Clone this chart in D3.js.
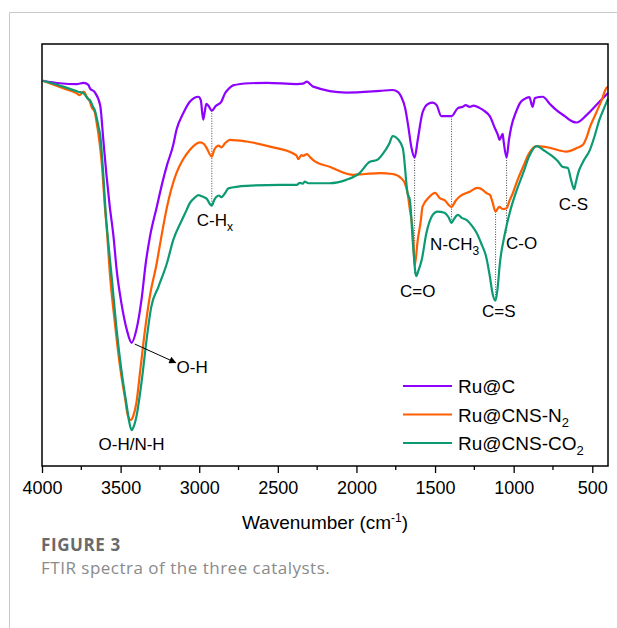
<meta charset="utf-8">
<style>
    body { margin: 0; background: #ffffff; }
    svg text { font-family: "Liberation Sans", Arial, sans-serif; }
    svg text.caption { font-family: "Open Sans", "Noto Sans", sans-serif; }
</style>
<body>
<script src="https://cdn.jsdelivr.net/npm/d3@7/dist/d3.min.js"></script>
<script>

    // [wavenumber (cm-1), transmittance (a.u.)]
    const ruC = [
        [3995, 91.3], [3885, 90.7], [3780, 90.5], [3735, 90.8], [3705, 90.3], [3695, 89.5], [3665, 88.6],
        [3630, 85.5], [3610, 77.3], [3590, 69.0], [3570, 61.8], [3545, 54.3], [3525, 46.4], [3495, 38.6],
        [3460, 32.2], [3430, 29.2], [3400, 32.2], [3365, 40.0], [3340, 48.1], [3315, 54.0], [3270, 61.4],
        [3230, 67.8], [3205, 71.3], [3165, 76.1], [3145, 79.6], [3100, 83.7], [3060, 86.3], [3005, 87.5],
        [2990, 86.7], [2975, 82.1], [2965, 83.9], [2955, 85.8], [2940, 85.3], [2920, 84.2], [2895, 85.3],
        [2860, 86.3], [2835, 88.4], [2815, 89.3], [2785, 90.2], [2680, 90.7], [2570, 90.8], [2380, 90.5],
        [2340, 90.6], [2315, 91.1], [2295, 90.5], [2275, 89.9], [2065, 88.5], [1850, 88.9], [1770, 89.1],
        [1735, 88.6], [1715, 87.5], [1690, 84.8], [1670, 80.4], [1650, 75.4], [1630, 73.1], [1610, 77.3],
        [1580, 83.7], [1545, 85.8], [1515, 86.1], [1490, 85.5], [1460, 82.9], [1395, 82.9], [1355, 84.8],
        [1325, 85.1], [1305, 85.5], [1280, 85.1], [1255, 85.4], [1215, 84.8], [1185, 84.1], [1150, 82.8],
        [1120, 80.1], [1100, 78.4], [1090, 77.3], [1070, 78.7], [1065, 77.3], [1045, 73.1], [1030, 77.3],
        [1015, 80.4], [985, 83.9], [960, 86.0], [930, 87.0], [900, 87.4], [880, 85.1], [865, 87.2],
        [815, 87.5], [770, 85.8], [730, 84.4], [675, 82.9], [625, 81.6], [600, 81.4], [535, 83.2],
        [455, 86.3], [400, 88.4]
    ];

    const ruCNSN2 = [
        [3995, 91.3], [3865, 89.5], [3780, 88.3], [3760, 87.9], [3735, 88.7], [3715, 87.5], [3695, 86.3],
        [3685, 85.1], [3665, 83.9], [3650, 80.8], [3640, 78.4], [3620, 71.8], [3600, 61.4], [3585, 54.7],
        [3570, 46.4], [3535, 33.4], [3505, 23.9], [3470, 15.6], [3455, 12.1], [3435, 10.9], [3420, 11.8],
        [3400, 14.9], [3375, 22.7], [3345, 32.2], [3315, 40.0], [3270, 48.1], [3250, 52.4], [3205, 61.4],
        [3145, 69.4], [3105, 72.5], [3060, 74.9], [2995, 76.7], [2970, 76.3], [2955, 75.5], [2920, 73.3],
        [2905, 74.9], [2890, 75.7], [2875, 75.9], [2860, 75.5], [2835, 76.5], [2805, 77.3], [2700, 76.9],
        [2530, 75.5], [2405, 74.1], [2380, 73.5], [2370, 72.7], [2360, 73.2], [2350, 73.7], [2340, 73.5],
        [2315, 73.9], [2295, 73.2], [2275, 72.5], [2170, 70.9], [2025, 69.0], [1945, 69.2], [1850, 69.4],
        [1770, 69.2], [1715, 68.2], [1690, 66.8], [1675, 64.7], [1660, 60.7], [1640, 54.7], [1630, 47.4],
        [1610, 53.6], [1590, 58.3], [1580, 61.4], [1535, 63.8], [1500, 64.7], [1470, 63.5], [1440, 63.0],
        [1395, 61.4], [1370, 62.8], [1345, 63.8], [1280, 65.0], [1230, 65.9], [1195, 65.4], [1175, 64.7],
        [1150, 64.2], [1135, 62.6], [1115, 60.3], [1100, 61.1], [1090, 61.4], [1070, 60.9], [1045, 61.1],
        [1025, 63.0], [1005, 64.7], [975, 67.8], [940, 70.9], [900, 74.2], [855, 75.8], [815, 75.7],
        [770, 75.4], [665, 74.5], [595, 75.4], [560, 76.1], [535, 78.0], [515, 80.3], [475, 83.7],
        [440, 86.7], [410, 89.6], [400, 89.8]
    ];

    const ruCNSCO2 = [
        [3995, 91.3], [3865, 89.9], [3770, 88.7], [3735, 88.3], [3705, 86.9], [3695, 86.7], [3675, 85.1],
        [3665, 84.4], [3640, 80.3], [3630, 78.4], [3610, 69.0], [3595, 60.0], [3580, 53.6], [3555, 44.1],
        [3525, 32.2], [3495, 22.7], [3460, 14.0], [3445, 10.4], [3430, 8.5], [3415, 9.5], [3400, 11.6],
        [3365, 20.4], [3335, 29.9], [3305, 37.7], [3260, 42.4], [3205, 48.1], [3165, 53.6], [3110, 58.3],
        [3080, 60.7], [3060, 62.3], [3025, 63.7], [3005, 64.2], [2990, 64.0], [2975, 63.8], [2955, 63.4],
        [2920, 61.7], [2905, 63.0], [2890, 63.8], [2875, 64.1], [2860, 63.7], [2835, 64.7], [2815, 65.8],
        [2700, 66.4], [2485, 66.6], [2380, 66.6], [2360, 67.1], [2340, 66.9], [2330, 67.4], [2305, 67.0],
        [2170, 67.0], [2065, 67.8], [1980, 69.4], [1915, 72.1], [1870, 72.5], [1830, 74.1], [1790, 76.5],
        [1770, 78.2], [1735, 77.4], [1705, 75.3], [1675, 64.7], [1660, 63.0], [1640, 52.4], [1620, 45.0],
        [1605, 46.4], [1585, 48.8], [1555, 55.2], [1515, 59.5], [1485, 60.3], [1440, 60.0], [1415, 59.0],
        [1395, 57.6], [1380, 58.5], [1355, 59.5], [1330, 58.8], [1300, 58.3], [1265, 56.9], [1235, 55.2],
        [1205, 52.6], [1175, 49.6], [1150, 44.6], [1135, 41.0], [1115, 39.2], [1100, 42.9], [1090, 47.2],
        [1055, 55.2], [1015, 61.4], [985, 64.9], [940, 69.4], [900, 73.5], [855, 75.8], [800, 74.6],
        [750, 73.3], [720, 72.3], [690, 70.9], [655, 70.6], [635, 67.8], [615, 65.6], [605, 67.1],
        [590, 69.4], [560, 72.0], [515, 74.9], [485, 78.2], [455, 82.0], [425, 84.8], [400, 87.0]
    ];

    const seriesNames = ["Ru@C", "Ru@CNS-N", "Ru@CNS-CO"];
    const seriesSubs = ["", "2", "2"];
    const seriesColors = ["#8f00ff", "#ff5e00", "#0b9a72"];
    const seriesData = [ruC, ruCNSN2, ruCNSCO2];

    const xTicks = [4000, 3500, 3000, 2500, 2000, 1500, 1000, 500];

    // dotted guide lines: wavenumber, top and bottom transmittance
    const guides = [
        [2920, 84.2, 61.7],
        [1630, 73.1, 45.5],
        [1395, 82.9, 57.6],
        [1115, 60.3, 39.2],
        [1045, 73.1, 55.2]
    ];

    // band labels: text, subscript, wavenumber, transmittance of baseline
    const bandLabels = [
        ["C-H", "x", 2900, 56.9],
        ["O-H/N-H", "", 3430, 3.8],
        ["O-H", "", 3045, 22.0],
        ["C=O", "", 1610, 40.0],
        ["N-CH", "3", 1375, 51.2],
        ["C=S", "", 1095, 35.3],
        ["C-O", "", 950, 51.4],
        ["C-S", "", 620, 60.7]
    ];

    const arrowFrom = [3410, 28.9], arrowTo = [3150, 24.5];

    const W = 617, H = 628;
    const margin = {left: 42, top: 44, right: 9, bottom: 162};
    const pw = W - margin.left - margin.right, ph = H - margin.top - margin.bottom;

    const svg = d3.select("body").append("svg")
        .attr("width", W)
        .attr("height", H);

    // outer panel border
    svg.append("path")
        .attr("d", "M9.5," + H + "V12.5H" + (W + 5))
        .attr("fill", "none")
        .attr("stroke", "#c9c9c9")
        .attr("stroke-width", 1);

    const g = svg.append("g").attr("transform", "translate(" + margin.left + "," + margin.top + ")");

    const x = d3.scaleLinear().domain([4000, 400]).range([0, pw]);
    const y = d3.scaleLinear().domain([0, 100]).range([ph, 0]);

    const line = d3.line()
        .x(d => x(d[0]))
        .y(d => y(d[1]))
        .curve(d3.curveMonotoneX);

    // dotted guides
    g.selectAll(".guide").data(guides).enter().append("line")
        .attr("x1", d => x(d[0])).attr("x2", d => x(d[0]))
        .attr("y1", d => y(d[1])).attr("y2", d => y(d[2]))
        .attr("stroke", "#444")
        .attr("stroke-width", 1)
        .attr("stroke-dasharray", "1,1.5");

    seriesData.forEach(function (data, i) {
        g.append("path")
            .datum(data)
            .attr("d", line)
            .attr("fill", "none")
            .attr("stroke", seriesColors[i])
            .attr("stroke-width", 2.2)
            .attr("stroke-linejoin", "round");
    });

    // frame
    g.append("rect")
        .attr("width", pw).attr("height", ph)
        .attr("fill", "none")
        .attr("stroke", "#000")
        .attr("stroke-width", 1.5);

    // x axis
    const xAxis = g.append("g")
        .attr("transform", "translate(0," + ph + ")")
        .call(d3.axisBottom(x).tickValues(xTicks).tickSize(7).tickPadding(8).tickFormat(d3.format("d")));
    xAxis.select(".domain").remove();
    xAxis.selectAll(".tick line").attr("stroke-width", 1.3);
    xAxis.selectAll("text").attr("font-size", 18).attr("fill", "#000");

    const minor = d3.range(3750, 400, -500);
    g.selectAll(".minor").data(minor).enter().append("line")
        .attr("x1", d => x(d)).attr("x2", d => x(d))
        .attr("y1", ph).attr("y2", ph + 4)
        .attr("stroke", "#000").attr("stroke-width", 1.3);

    const xt = g.append("text")
        .attr("x", pw / 2).attr("y", ph + 63)
        .attr("text-anchor", "middle")
        .attr("font-size", 19);
    xt.append("tspan").text("Wavenumber (cm");
    xt.append("tspan").attr("dy", -7).attr("font-size", 12).text("-1");
    xt.append("tspan").attr("dy", 7).text(")");

    // arrow
    svg.append("defs").append("marker")
        .attr("id", "arr").attr("viewBox", "0 0 10 10")
        .attr("refX", 9).attr("refY", 5)
        .attr("markerWidth", 9).attr("markerHeight", 7)
        .attr("orient", "auto")
        .attr("markerUnits", "userSpaceOnUse")
        .append("path").attr("d", "M0,0L10,5L0,10Z").attr("fill", "#000");

    g.append("line")
        .attr("x1", x(arrowFrom[0])).attr("y1", y(arrowFrom[1]))
        .attr("x2", x(arrowTo[0])).attr("y2", y(arrowTo[1]))
        .attr("stroke", "#000").attr("stroke-width", 1)
        .attr("marker-end", "url(#arr)");

    // band labels
    bandLabels.forEach(function (d) {
        const t = g.append("text")
            .attr("x", x(d[2])).attr("y", y(d[3]))
            .attr("text-anchor", "middle")
            .attr("font-size", 17);
        t.append("tspan").text(d[0]);
        if (d[1]) t.append("tspan").attr("dy", 5).attr("font-size", 12).text(d[1]);
    });

    // legend
    const lg = g.append("g").attr("transform", "translate(" + (403 - margin.left) + "," + (386 - margin.top) + ")");
    seriesNames.forEach(function (name, i) {
        const row = lg.append("g").attr("transform", "translate(0," + (i * 28.5) + ")");
        row.append("line")
            .attr("x1", 0).attr("x2", 49)
            .attr("stroke", seriesColors[i]).attr("stroke-width", 2);
        const t = row.append("text")
            .attr("x", 55).attr("y", 7)
            .attr("font-size", 19);
        t.append("tspan").text(name);
        if (seriesSubs[i]) t.append("tspan").attr("dy", 5).attr("font-size", 13).text(seriesSubs[i]);
    });

    // caption
    svg.append("text")
        .attr("class", "caption")
        .attr("x", 41).attr("y", 551)
        .attr("font-size", 17).attr("font-weight", "bold")
        .attr("fill", "#6a6a6a")
        .attr("letter-spacing", 0.6)
        .text("FIGURE 3");
    svg.append("text")
        .attr("class", "caption")
        .attr("x", 41).attr("y", 574)
        .attr("font-size", 17)
        .attr("fill", "#8a8a8a")
        .attr("letter-spacing", 0.5)
        .text("FTIR spectra of the three catalysts.");

</script>
